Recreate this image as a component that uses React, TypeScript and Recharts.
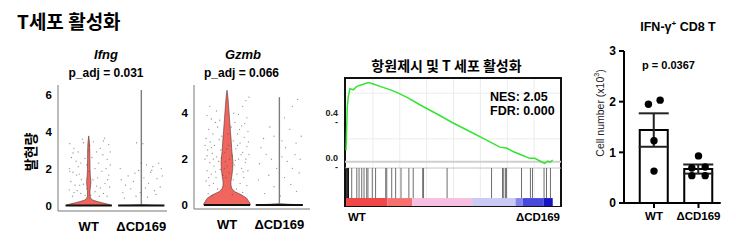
import { ComposedChart, Area, Scatter, Line, Bar, ErrorBar, XAxis, YAxis, ReferenceLine, ReferenceArea, CartesianGrid } from "recharts"

const FONT = "'Liberation Sans', Arial, 'Noto Sans CJK KR', sans-serif"
const KFONT = "'Noto Sans CJK KR', 'Liberation Sans', sans-serif"

const groups = ["WT", "ΔCD169"]

// Ifng violin: expression levels and half widths (x units) of each group
const ifngLevels = [0, 0.05, 0.1, 0.15, 0.2, 0.25, 0.3, 0.38, 0.5, 0.8, 1.1, 1.3, 1.6, 2.0, 2.5, 3.0, 3.4, 3.77, 6.26]
const ifngWtHalf = [0.44, 0.39, 0.32, 0.25, 0.18, 0.12, 0.075, 0.04, 0.025, 0.024, 0.036, 0.04, 0.03, 0.024, 0.022, 0.02, 0.014, 0, null]
const ifngCdHalf = [0.44, 0.006, 0.006, 0.006, 0.006, 0.006, 0.006, 0.006, 0.006, 0.006, 0.006, 0.006, 0.006, 0.006, 0.006, 0.006, 0.006, 0.006, 0.006]
const ifngWtCells = [
  [-0.36, 3.35], [-0.28, 3.1], [-0.1, 3.4], [-0.2, 2.9], [-0.33, 2.6], [-0.24, 2.4], [-0.15, 2.3], [-0.07, 2.55],
  [-0.37, 2.0], [-0.3, 1.8], [-0.18, 1.7], [-0.14, 1.4], [-0.34, 1.3], [-0.26, 1.1], [-0.1, 1.15], [-0.37, 0.85],
  [-0.22, 0.8], [-0.15, 0.65], [-0.31, 0.5], [-0.07, 0.55], [0.09, 3.45], [0.28, 3.5], [0.38, 3.3], [0.15, 2.9],
  [0.27, 2.75], [0.35, 2.5], [0.19, 2.3], [0.41, 2.2], [0.12, 2.0], [0.25, 1.85], [0.38, 1.65], [0.17, 1.5],
  [0.31, 1.2], [0.22, 0.95], [0.4, 1.0], [0.12, 0.75], [0.28, 0.65], [0.35, 0.5], [0.06, 2.6], [0.08, 1.4],
  [-0.04, 2.2], [0.01, 1.85], [-0.01, 3.0], [0.15, 1.05], [-0.17, 1.1], [-0.23, 1.65], [0.22, 3.1], [0.41, 2.9],
  [0.33, 2.0], [-0.36, 1.85], [-0.28, 0.7], [-0.04, 0.9], [0.04, 0.55], [0.2, 0.5], [-0.12, 3.6], [0.3, 3.65],
  [-0.3, 2.85], [0.02, 3.25], [-0.2, 2.1], [0.36, 1.4],
]
const ifngCdCells = [
  [-0.09, 3.4], [0.03, 3.35], [-0.38, 1.4], [-0.3, 1.1], [-0.35, 0.7], [-0.25, 1.6], [-0.2, 0.9], [-0.15, 1.3],
  [-0.1, 0.5], [-0.05, 1.9], [0.0, 2.3], [0.05, 1.5], [0.1, 2.2], [0.14, 1.2], [0.18, 1.8], [0.22, 2.1],
  [0.25, 0.8], [0.3, 1.45], [0.33, 2.3], [0.36, 1.0], [0.4, 1.6], [0.28, 0.6], [-0.32, 0.4], [0.08, 0.95],
  [-0.02, 0.7], [0.2, 1.9], [0.38, 2.0], [-0.12, 1.75], [0.12, 0.45], [-0.4, 2.0],
]

// Gzmb violin
const gzmbLevels = [0, 0.07, 0.29, 0.44, 0.58, 0.73, 0.87, 1.02, 1.3, 1.6, 1.89, 2.33, 2.76, 3.2, 3.78, 4.37, 4.7, 5.0]
const gzmbWtHalf = [0.443, 0.44, 0.38, 0.283, 0.151, 0.089, 0.075, 0.075, 0.094, 0.109, 0.113, 0.094, 0.081, 0.066, 0.047, 0.028, 0.017, 0]
const gzmbCdHalf = [0.45, 0.006, 0.006, 0.006, 0.006, 0.006, 0.006, 0.006, 0.006, 0.006, 0.006, 0.006, 0.006, 0.006, 0.006, 0.006, 0.006, null]
const gzmbWtCells = [
  [-0.38, 3.9], [-0.3, 3.75], [-0.22, 3.6], [-0.35, 3.3], [-0.27, 3.1], [-0.18, 3.4], [-0.4, 2.9], [-0.32, 2.75],
  [-0.24, 2.6], [-0.15, 2.85], [-0.37, 2.4], [-0.28, 2.25], [-0.2, 2.1], [-0.12, 2.4], [-0.42, 2.0], [-0.33, 1.85],
  [-0.25, 1.7], [-0.16, 1.9], [-0.38, 1.5], [-0.3, 1.35], [-0.21, 1.2], [-0.13, 1.55], [-0.4, 1.05], [-0.34, 0.85],
  [-0.26, 0.95], [-0.18, 0.7], [-0.36, 0.5], [-0.28, 0.4], [-0.1, 3.0], [-0.08, 1.3], [-0.2, 4.1], [-0.33, 4.3],
  [-0.26, 2.0], [-0.35, 1.2], [-0.14, 3.7], [-0.42, 2.6], [-0.22, 1.45], [-0.3, 2.5], [-0.38, 2.15], [-0.11, 2.05],
  [-0.04, 2.3], [0.0, 1.7], [0.03, 2.6], [-0.02, 1.2], [0.05, 2.0], [0.02, 3.1], [-0.05, 1.6], [0.04, 1.4],
  [0.0, 2.45], [-0.03, 1.9], [0.36, 4.55], [0.42, 4.7], [0.3, 4.3], [0.22, 3.95], [0.38, 3.8], [0.15, 3.6],
  [0.28, 3.45], [0.4, 3.2], [0.2, 3.1], [0.33, 2.95], [0.12, 2.8], [0.25, 2.7], [0.38, 2.55], [0.17, 2.45],
  [0.3, 2.3], [0.42, 2.2], [0.1, 2.15], [0.22, 2.0], [0.35, 1.85], [0.14, 1.75], [0.28, 1.6], [0.4, 1.5],
  [0.19, 1.35], [0.32, 1.2], [0.12, 1.1], [0.25, 0.95], [0.38, 0.85], [0.18, 0.7], [0.3, 0.55], [0.1, 0.45],
  [0.24, 3.3], [0.36, 2.0], [0.2, 2.6], [0.08, 3.4], [0.31, 1.45], [0.41, 2.75], [0.16, 1.95], [0.27, 2.2],
  [0.13, 4.0], [0.34, 3.55],
]
const gzmbCdCells = [
  [0.35, 4.6], [0.25, 4.3], [0.1, 3.8], [-0.1, 3.0], [-0.3, 2.9], [0.2, 3.3], [0.3, 2.2], [0.4, 2.0],
  [-0.35, 2.5], [-0.25, 2.2], [-0.15, 2.0], [0.05, 2.1], [0.15, 1.9], [0.25, 1.6], [0.38, 1.4], [-0.4, 1.1],
  [-0.2, 1.3], [-0.05, 1.6], [0.1, 1.2], [0.22, 0.9], [0.33, 0.6], [-0.28, 0.5], [-0.1, 0.8], [0.02, 0.4],
  [0.12, 2.5], [-0.18, 3.4], [0.05, 2.8], [0.32, 2.7], [-0.38, 1.8], [0.42, 3.0],
]

// GSEA running enrichment score over gene rank (0-100)
const esRank = [0, 0.6, 1.1, 1.9, 3.5, 5.2, 7.6, 10.8, 13.2, 16.4, 20.5, 24.5, 29.3, 35.7, 43.8, 51.8, 59.9, 68, 74.4, 77.6, 80.8, 84.9, 88.9, 91.3, 94.5, 96.1, 97.7, 98.8, 100]
const esScore = [0.1, 0.48, 0.57, 0.64, 0.63, 0.66, 0.674, 0.694, 0.68, 0.66, 0.636, 0.607, 0.566, 0.499, 0.42, 0.339, 0.265, 0.19, 0.128, 0.12, 0.09, 0.059, 0.03, 0.03, 0.0, -0.015, 0.005, -0.003, 0.015]
const hitRanks = [0, 0.4, 0.8, 1.2, 2.75, 5.2, 6.3, 7.6, 8.7, 10.0, 10.6, 12.7, 14.3, 19.2, 19.7, 22.1, 24.0, 26.6, 30.4, 32.5, 37.1, 37.5, 48.9, 70.4, 75.7, 76.3, 77.2, 77.6, 84.9, 89.2, 90.2, 95.8, 97.0, 98.9]
const rankBandEdges = [0, 20, 32, 61, 82, 85.5, 95.7, 100]
const rankBandColors = ["#f04848", "#f77070", "#f8c0e0", "#cacaf5", "#8484ec", "#4848df", "#1414c0"]
const gseaTicks = [0, 0.4]

// IFN-γ+ CD8 T cell numbers (x10^3)
const cellMean = [1.44, 0.67]
const cellSem = [0.33, 0.09]
const wtCellDots = [[-0.125, 1.95], [0.138, 2.03], [0, 1.23], [0, 0.63]]
const cdCellDots = [[0, 0.93], [-0.15, 0.69], [0.15, 0.71], [-0.15, 0.54], [0.15, 0.54]]
const cellTicks = [0, 1, 2, 3]

let Txt = ({ x, y, size, children, bold = true, italic = false, anchor = "middle", rotate = 0, color = "#000", family = FONT }: any) => (
  <div
    style={{
      position: "absolute",
      left: x,
      top: y,
      fontSize: size,
      fontFamily: family,
      fontWeight: bold ? 700 : 400,
      fontStyle: italic ? "italic" : "normal",
      color,
      lineHeight: 1,
      whiteSpace: "nowrap",
      transform: `translate(${anchor === "middle" ? "-50%" : anchor === "end" ? "-100%" : "0"}, -50%) rotate(${rotate}deg)`,
    }}
  >
    {children}
  </div>
)

let dot = (r: number, fill: string, opacity = 1) => (p: any) => <circle cx={p.cx} cy={p.cy} r={r} fill={fill} fillOpacity={opacity} />

let Violin = ({ left, top, width, height, yWidth, xDomain, yDomain, yTicks, levels, wtHalf, cdHalf, wtCells, cdCells }: any) => {
  let rows = levels.map((y: number, i: number) => ({
    y,
    wt: wtHalf[i] == null ? [null, null] : [1 - wtHalf[i], 1 + wtHalf[i]],
    cd: cdHalf[i] == null ? [null, null] : [2 - cdHalf[i], 2 + cdHalf[i]],
  }))
  let cells = [
    ...wtCells.map(([dx, y]: number[]) => ({ x: 1 + dx, y })),
    ...cdCells.map(([dx, y]: number[]) => ({ x: 2 + dx, y })),
  ]
  return (
    <div style={{ position: "absolute", left, top }}>
      <ComposedChart width={width} height={height} data={rows} layout="vertical" margin={{ top: 5, right: 3, bottom: 0, left: 0 }}>
        <XAxis
          type="number"
          dataKey="x"
          domain={xDomain}
          allowDataOverflow
          ticks={[1, 2]}
          tickFormatter={(v: number) => groups[v - 1]}
          tickLine={false}
          tickSize={0}
          tickMargin={11}
          height={30}
          stroke="#777"
          tick={{ fill: "#000", fontSize: 13, fontWeight: 700, fontFamily: FONT }}
        />
        <YAxis
          type="number"
          dataKey="y"
          domain={yDomain}
          allowDataOverflow
          reversed
          ticks={yTicks}
          width={yWidth}
          tickLine={false}
          tickSize={0}
          tickMargin={6}
          stroke="#777"
          tick={{ fill: "#000", fontSize: 11.5, fontWeight: 700, fontFamily: FONT }}
        />
        <Area dataKey="wt" type="linear" fill="#f0665e" fillOpacity={1} stroke="#6b4040" strokeWidth={0.7} isAnimationActive={false} />
        <Area dataKey="cd" type="linear" fill="#666" fillOpacity={1} stroke="#666" strokeWidth={0.5} isAnimationActive={false} />
        <ReferenceLine segment={[{ x: 1 - wtHalf[0], y: 0 }, { x: 1 + wtHalf[0], y: 0 }]} stroke="#111" strokeWidth={2} />
        <ReferenceLine segment={[{ x: 2 - cdHalf[0], y: 0 }, { x: 2 + cdHalf[0], y: 0 }]} stroke="#111" strokeWidth={2} />
        <Scatter data={cells} dataKey="y" shape={dot(0.65, "#444", 0.6)} isAnimationActive={false} />
      </ComposedChart>
    </div>
  )
}

let Gsea = () => {
  let data = esRank.map((r, i) => ({ r, es: esScore[i] }))
  let hitTop = -0.055
  let hitBottom = -0.318
  let bandBottom = -0.388
  return (
    <div style={{ position: "absolute", left: 318, top: 70 }}>
      <ComposedChart width={245} height={137} data={data} margin={{ top: 8, right: 2, bottom: 0, left: 0 }}>
        <CartesianGrid stroke="#ececec" verticalValues={[13, 26, 39, 52, 65, 78, 91]} horizontalValues={[0.2, 0.4, 0.6]} />
        <XAxis type="number" dataKey="r" domain={[-0.5, 104]} allowDataOverflow hide />
        <YAxis
          type="number"
          domain={[-0.396, 0.733]}
          allowDataOverflow
          ticks={gseaTicks}
          width={27}
          axisLine={false}
          tickLine={false}
          tickSize={0}
          tickMargin={7}
          tickFormatter={(v: number) => `${v.toFixed(1)} -`}
          tick={{ fill: "#222", fontSize: 9, fontWeight: 700, fontFamily: FONT, dy: 1 }}
        />
        <ReferenceLine y={0} stroke="#cfcfcf" strokeWidth={2} />
        <ReferenceLine y={hitTop} stroke="#c4c4c4" strokeWidth={1} />
        {hitRanks.map((r, i) => (
          <ReferenceLine key={i} segment={[{ x: r, y: hitTop }, { x: r, y: hitBottom }]} stroke={i < 4 ? "#111" : "#6e6e6e"} strokeWidth={1} />
        ))}
        {rankBandColors.map((c, i) => (
          <ReferenceArea key={c} x1={rankBandEdges[i]} x2={rankBandEdges[i + 1]} y1={bandBottom} y2={hitBottom} fill={c} fillOpacity={1} stroke="none" />
        ))}
        <Line dataKey="es" type="linear" stroke="#33e533" strokeWidth={1.5} dot={false} isAnimationActive={false} />
        <ReferenceArea x1={-0.5} x2={104} y1={-0.396} y2={0.733} fill="none" stroke="#111" strokeWidth={2} />
      </ComposedChart>
    </div>
  )
}

let CellBars = () => {
  let data = cellMean.map((v, i) => ({ name: groups[i], v, e: cellSem[i] }))
  let dots = [
    ...wtCellDots.map(([dx, v]) => ({ x: 1 + dx, v })),
    ...cdCellDots.map(([dx, v]) => ({ x: 2 + dx, v })),
  ]
  return (
    <div style={{ position: "absolute", left: 578, top: 40 }}>
      <ComposedChart width={158} height={193} data={data} margin={{ top: 11, right: 15.25, bottom: 0, left: 0 }}>
        <XAxis
          dataKey="name"
          type="category"
          padding={{ left: 7.75, right: 0 }}
          axisLine={{ stroke: "#000", strokeWidth: 2 }}
          tickLine={{ stroke: "#000", strokeWidth: 2 }}
          tickSize={5}
          tickMargin={4}
          height={30}
          interval={0}
          tick={{ fill: "#000", fontSize: 11.5, fontWeight: 700, fontFamily: FONT }}
        />
        <XAxis xAxisId="n" type="number" dataKey="x" domain={[0.326, 2.5]} allowDataOverflow hide />
        <YAxis
          type="number"
          domain={[0, 3]}
          ticks={cellTicks}
          width={46}
          axisLine={{ stroke: "#000", strokeWidth: 2 }}
          tickLine={{ stroke: "#000", strokeWidth: 2 }}
          tickSize={5}
          tickMargin={3}
          tick={{ fill: "#000", fontSize: 12, fontWeight: 700, fontFamily: FONT }}
        />
        <Bar dataKey="v" barSize={28} fill="#fff" stroke="#000" strokeWidth={2} isAnimationActive={false}>
          <ErrorBar dataKey="e" direction="y" width={15} stroke="#222" strokeWidth={2} />
        </Bar>
        <Scatter xAxisId="n" data={dots} dataKey="v" shape={dot(3.7, "#000")} isAnimationActive={false} />
      </ComposedChart>
    </div>
  )
}

export default function App() {
  return (
    <div style={{ position: "absolute", left: 0, top: 0, width: 736, height: 244, background: "#fff", fontFamily: FONT, overflow: "hidden" }}>
      <Txt x={17} y={19.5} size={19} anchor="start" family={KFONT}>T세포 활성화</Txt>

      <Txt x={106} y={54} size={13} italic>Ifng</Txt>
      <Txt x={106} y={73} size={12}>p_adj = 0.031</Txt>
      <Txt x={243} y={54} size={13} italic>Gzmb</Txt>
      <Txt x={241.5} y={73} size={12}>p_adj = 0.066</Txt>
      <Txt x={30} y={152} size={14} rotate={-90} family={KFONT}>발현량</Txt>

      <Violin
        left={10} top={80} width={160} height={161} yWidth={48}
        xDomain={[0.415, 2.49]} yDomain={[-0.3, 6.53]} yTicks={[0, 2, 4, 6]}
        levels={ifngLevels} wtHalf={ifngWtHalf} cdHalf={ifngCdHalf} wtCells={ifngWtCells} cdCells={ifngCdCells}
      />
      <Violin
        left={150} top={80} width={163} height={159} yWidth={44}
        xDomain={[0.369, 2.587]} yDomain={[-0.17, 5.23]} yTicks={[0, 2, 4]}
        levels={gzmbLevels} wtHalf={gzmbWtHalf} cdHalf={gzmbCdHalf} wtCells={gzmbWtCells} cdCells={gzmbCdCells}
      />

      <Txt x={446.5} y={65} size={14} family={KFONT}>항원제시 및 T 세포 활성화</Txt>
      <Gsea />
      <Txt x={490} y={97} size={12.5} anchor="start">NES:  2.05</Txt>
      <Txt x={490} y={111} size={12.5} anchor="start">FDR:  0.000</Txt>
      <Txt x={348} y={217.5} size={11.5} anchor="start">WT</Txt>
      <Txt x={560} y={217.5} size={11.5} anchor="end">ΔCD169</Txt>

      <Txt x={678} y={27} size={12.5}>IFN-γ<sup style={{ fontSize: 8 }}>+</sup> CD8 T</Txt>
      <Txt x={668.5} y={64.5} size={11}>p = 0.0367</Txt>
      <Txt x={599} y={112.5} size={10.5} bold={false} rotate={-90} color="#222">Cell number (x10<sup style={{ fontSize: 7 }}>3</sup>)</Txt>
      <CellBars />
    </div>
  )
}
